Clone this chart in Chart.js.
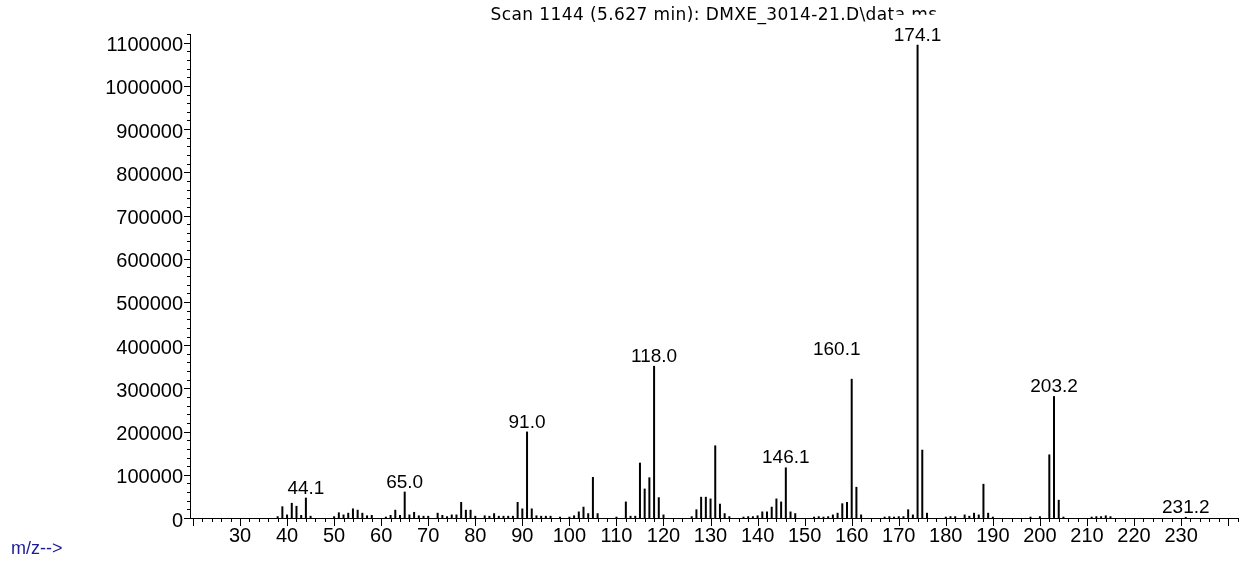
<html>

<head>
  <meta charset="utf-8">
  <title>Scan 1144 (5.627 min): DMXE_3014-21.D\data.ms</title>
  <style>
    html,
    body {
      margin: 0;
      padding: 0;
      background: #fff;
    }

    #chart {
      display: block;
    }
  </style>
  <script src="https://cdn.jsdelivr.net/npm/chart.js@4.4.1/dist/chart.umd.min.js"></script>
</head>

<body>
  <canvas id="chart" width="1242" height="563"></canvas>
  <script>
    // title and axis caption
    var titleText = "Scan 1144 (5.627 min): DMXE_3014-21.D\\data.ms";
    var xCaption = "m/z-->";

    // m/z of each ion and its abundance
    var mz = [38, 39, 40, 41, 42, 43, 44, 45, 50, 51, 52, 53, 54, 55, 56, 57, 58,
      61, 62, 63, 64, 65, 66, 67, 68, 69, 70, 72, 73, 74, 75, 76, 77, 78, 79, 80,
      82, 83, 84, 85, 86, 87, 88, 89, 90, 91, 92, 93, 94, 95, 96, 98, 100, 101,
      102, 103, 104, 105, 106, 110, 112, 113, 114, 115, 116, 117, 118, 119, 120,
      126, 127, 128, 129, 130, 131, 132, 133, 134, 137, 138, 139, 140, 141, 142,
      143, 144, 145, 146, 147, 148, 152, 153, 154, 155, 156, 157, 158, 159, 160,
      161, 162, 167, 168, 169, 170, 171, 172, 173, 174, 175, 176, 180, 181, 182,
      184, 185, 186, 187, 188, 189, 190, 198, 200, 202, 203, 204, 205, 211, 212,
      213, 214, 215, 231];
    var abundance = [4000, 27000, 8000, 35000, 28000, 7000, 47000, 5000, 4000, 13000, 8000, 12000, 22000, 19000, 12000, 6000, 7000,
      3000, 7000, 19000, 7000, 61000, 8000, 14000, 6000, 5000, 5000, 12000, 7000, 4000, 8000, 8000, 37000, 19000, 19000, 5000,
      6000, 5000, 11000, 5000, 5000, 5000, 5000, 37000, 22000, 200000, 22000, 6000, 5000, 5000, 5000, 3000, 3000, 6000,
      15000, 26000, 11000, 95000, 11000, 3000, 38000, 5000, 5000, 128000, 68000, 94000, 352000, 48000, 8000,
      4000, 20000, 49000, 49000, 45000, 168000, 33000, 11000, 4000, 3000, 4000, 4000, 6000, 15000, 15000,
      26000, 45000, 38000, 117000, 15000, 11000, 3000, 4000, 3000, 4000, 8000, 12000, 34000, 37000, 322000,
      72000, 8000, 3000, 4000, 3000, 4000, 4000, 20000, 8000, 1095000, 158000, 12000, 3000, 4000, 4000,
      8000, 5000, 12000, 8000, 79000, 12000, 3000, 3000, 4000, 147000, 282000, 42000, 3000, 3000, 4000,
      4000, 6000, 4000, 2500];

    // labelled peaks
    var peakLabels = ["44.1", "65.0", "91.0", "118.0", "146.1", "160.1", "174.1", "203.2", "231.2"];

    // axis ticks
    var xMin = 19.37, xMax = 242.1, xLabelStep = 10, xMinorStep = 2;
    var xLabels = [30, 40, 50, 60, 70, 80, 90, 100, 110, 120, 130, 140, 150, 160, 170, 180, 190, 200, 210, 220, 230];
    var yMax = 1120000, yLabelStep = 100000, yMinorStep = 20000;
    var yLabels = [0, 100000, 200000, 300000, 400000, 500000, 600000, 700000, 800000, 900000, 1000000, 1100000];

    var points = mz.map(function (m, i) { return { x: m, y: abundance[i] }; });

    var labelFont = "19px 'Liberation Sans', Arial, sans-serif";

    var extras = {
      id: "extras",
      beforeDatasetsDraw: function (chart) {
        var ctx = chart.ctx, area = chart.chartArea;
        var xs = chart.scales.x, ys = chart.scales.y;
        ctx.save();
        // title
        ctx.fillStyle = "#000";
        ctx.font = "17px 'DejaVu Sans', sans-serif";
        ctx.letterSpacing = "0.4px";
        ctx.textAlign = "center";
        ctx.textBaseline = "alphabetic";
        ctx.fillText(titleText, (area.left + area.right) / 2, 20);
        ctx.letterSpacing = "0px";
        // caption
        ctx.fillStyle = "#1c1c96";
        ctx.font = "18px 'Liberation Sans', Arial, sans-serif";
        ctx.textAlign = "left";
        ctx.fillText(xCaption, 11, 554);
        // tick marks
        ctx.strokeStyle = "#000";
        ctx.lineWidth = 1;
        ctx.beginPath();
        for (var v = 20; v <= xMax; v += xMinorStep) {
          var px = Math.round(xs.getPixelForValue(v)) + 0.5;
          var len = v % xLabelStep === 0 ? 8 : 4;
          ctx.moveTo(px, area.bottom);
          ctx.lineTo(px, area.bottom + len);
        }
        for (var w = 0; w <= yMax; w += yMinorStep) {
          var py = Math.round(ys.getPixelForValue(w)) + 0.5;
          var l = w % yLabelStep === 0 ? 6 : 3;
          ctx.moveTo(area.left - l, py);
          ctx.lineTo(area.left + 1, py);
        }
        ctx.stroke();
        ctx.restore();
      },
      afterDatasetsDraw: function (chart) {
        var ctx = chart.ctx;
        var meta = chart.getDatasetMeta(0);
        ctx.save();
        ctx.font = labelFont;
        ctx.textAlign = "center";
        ctx.textBaseline = "alphabetic";
        peakLabels.forEach(function (lbl) {
          var idx = mz.indexOf(Math.round(parseFloat(lbl)));
          if (idx < 0) return;
          var el = meta.data[idx];
          var x = el.x, y = el.y - 4;
          if (lbl === "160.1") { x -= 15; y -= 20; }
          var tw = ctx.measureText(lbl).width;
          ctx.fillStyle = "#fff";
          ctx.fillRect(x - tw / 2 - 1, y - 26, tw + 2, 27);
          ctx.fillStyle = "#000";
          ctx.fillText(lbl, x, y);
        });
        ctx.restore();
      }
    };

    var tickFont = { family: "'Liberation Sans', Arial, sans-serif", size: 20 };

    var chart = new Chart(document.getElementById("chart"), {
      type: "bar",
      data: {
        datasets: [{
          data: points,
          backgroundColor: "#000",
          borderWidth: 0,
          barThickness: 2,
          inflateAmount: 0,
          grouped: false
        }]
      },
      options: {
        responsive: false,
        animation: false,
        devicePixelRatio: 1,
        layout: { padding: { top: 34, right: 4, left: 0, bottom: 0 } },
        plugins: {
          legend: { display: false },
          tooltip: { enabled: false },
          title: { display: false }
        },
        scales: {
          x: {
            type: "linear",
            min: xMin,
            max: xMax,
            offset: false,
            grid: { display: false, drawTicks: false },
            border: { display: true, color: "#000", width: 1 },
            afterFit: function (s) { s.height = 45; },
            afterBuildTicks: function (s) {
              s.ticks = xLabels.map(function (v) { return { value: v }; });
            },
            ticks: {
              autoSkip: false,
              maxRotation: 0,
              padding: 6,
              color: "#000",
              font: tickFont,
              callback: function (v) { return String(v); }
            }
          },
          y: {
            min: 0,
            max: yMax,
            grid: { display: false, drawTicks: false },
            border: { display: true, color: "#000", width: 1 },
            afterFit: function (s) { s.width = 190; },
            afterBuildTicks: function (s) {
              s.ticks = yLabels.map(function (v) { return { value: v }; });
            },
            ticks: {
              autoSkip: false,
              padding: 7,
              labelOffset: 3,
              color: "#000",
              font: tickFont,
              callback: function (v) { return String(v); }
            }
          }
        }
      },
      plugins: [extras]
    });
  </script>
</body>

</html>
